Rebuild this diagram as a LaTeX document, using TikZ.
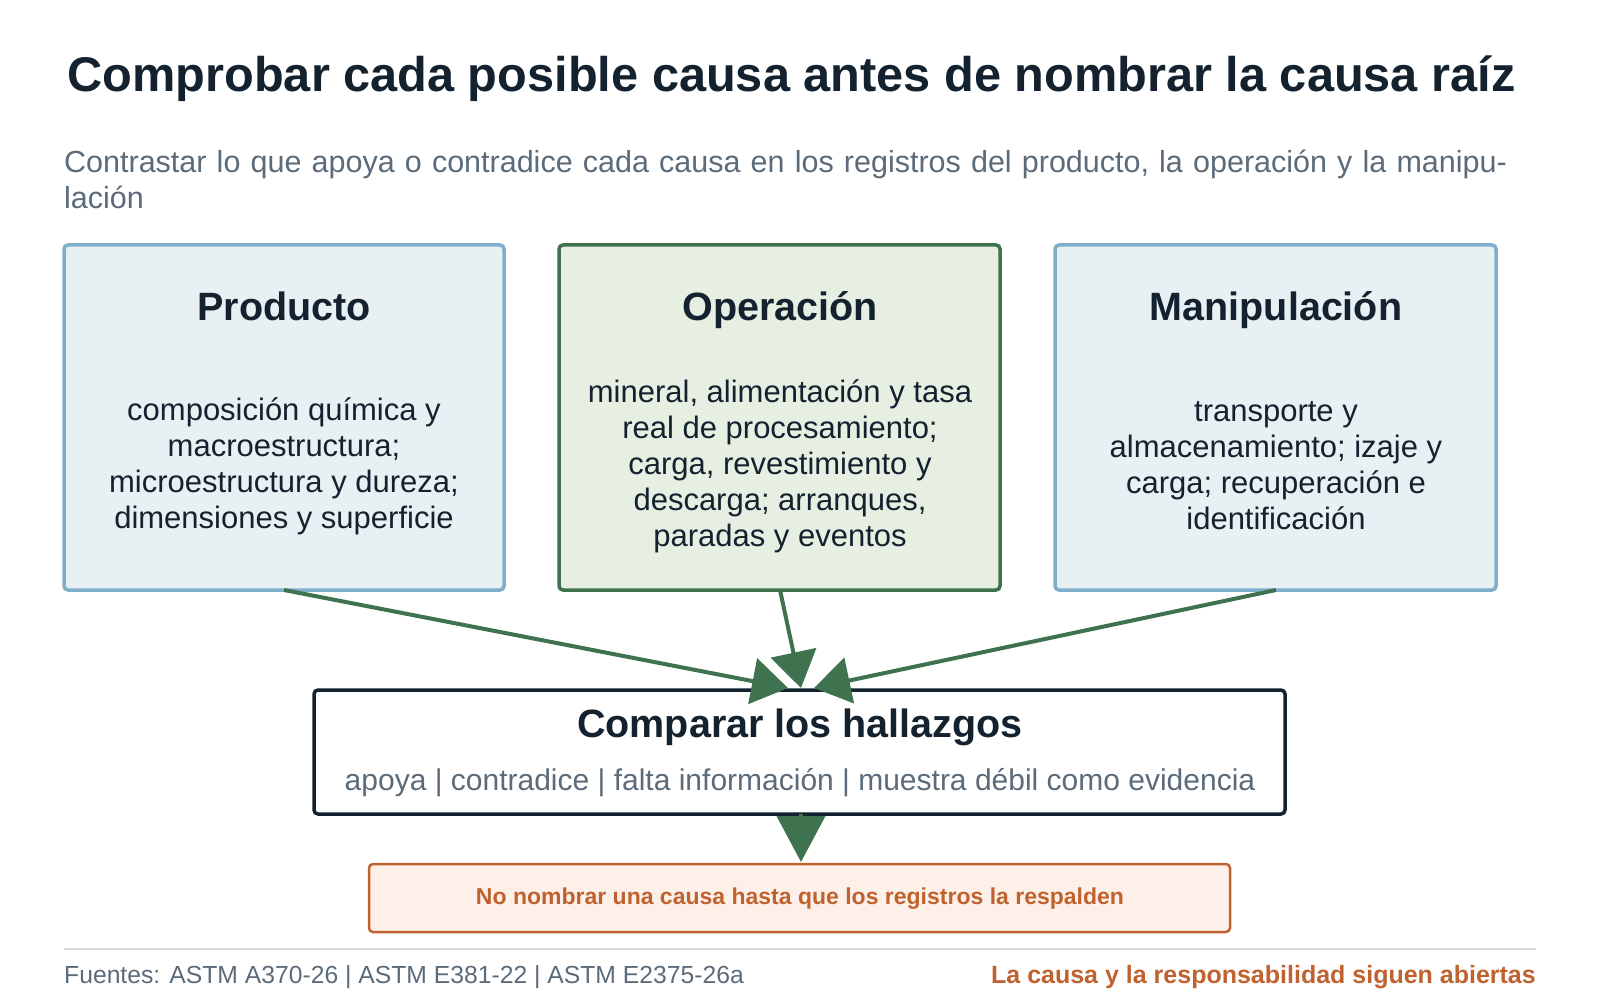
\documentclass[tikz,border=0pt]{standalone}
\usepackage{fontspec}
\setmainfont{Liberation Sans}
\usetikzlibrary{arrows.meta}
\definecolor{dark}{HTML}{13222E}
\definecolor{gr}{HTML}{5B6B7A}
\definecolor{bfill}{HTML}{E9F0F4}
\definecolor{bdraw}{HTML}{7FAECB}
\definecolor{gfill}{HTML}{E6EFE2}
\definecolor{gdraw}{HTML}{3F7350}
\definecolor{ofill}{HTML}{FDF0E8}
\definecolor{odraw}{HTML}{C0622F}
\begin{document}
\begin{tikzpicture}[x=1pt,y=-1pt,
 box/.style={draw=bdraw,fill=bfill,line width=3.5pt,rounded corners=4pt},
 head/.style={font=\fontsize{39.5}{44}\selectfont\bfseries,text=dark},
 body/.style={font=\fontsize{31}{36}\selectfont,text=dark,align=center},
 arr/.style={draw=gdraw,line width=4pt,-{Triangle[length=36pt,width=46pt]}}]
\useasboundingbox (0,0) rectangle (1600,1000);
\node[anchor=base west,font=\fontsize{48.7}{54}\selectfont\bfseries,text=dark] (title) at (64,92) {Comprobar cada posible causa antes de nombrar la causa raíz};
\node[anchor=base west,font=\fontsize{30.5}{36}\selectfont,text=gr,align=left,text width=1450pt,inner sep=0pt] (sub) at (64,173) {Contrastar lo que apoya o contradice cada causa en los registros del producto, la operación y la manipulación};
\draw[box] (64,245) rectangle (504,590);
\draw[box,draw=gdraw,fill=gfill] (559,245) rectangle (1000,590);
\draw[box] (1055,245) rectangle (1496,590);
\coordinate (p) at (284,590); \coordinate (o) at (780,590); \coordinate (m) at (1276,590);
\node[head,anchor=base] (ph) at (284,320) {Producto};
\node[head,anchor=base] (oh) at (780,320) {Operación};
\node[head,anchor=base] (mh) at (1276,320) {Manipulación};
\node[body] (pb) at (284,466) {composición química y\\macroestructura;\\microestructura y dureza;\\dimensiones y superficie};
\node[body] (ob) at (780,466) {mineral, alimentación y tasa\\real de procesamiento;\\carga, revestimiento y\\descarga; arranques,\\paradas y eventos};
\node[body] (mb) at (1276,466) {transporte y\\almacenamiento; izaje y\\carga; recuperación e\\identificación};
\draw[draw=dark,line width=3.5pt,rounded corners=4pt,fill=white] (314,690) rectangle (1285,814);
\node[head,anchor=base] (ch) at (800,737) {Comparar los hallazgos};
\node[anchor=base,font=\fontsize{30}{34}\selectfont,text=gr] (cs) at (800,790) {apoya | contradice | falta información | muestra débil como evidencia};
\coordinate (c1) at (788,688); \coordinate (c2) at (801,688); \coordinate (c3) at (814,688);
\draw[arr] (p) -- (c1);
\draw[arr] (o) -- (c2);
\draw[arr] (m) -- (c3);
\draw[draw=odraw,fill=ofill,line width=2.5pt,rounded corners=4pt] (369,864) rectangle (1230,932);
\node[font=\fontsize{23}{27}\selectfont\bfseries,text=odraw] (warn) at (800,899) {No nombrar una causa hasta que los registros la respalden};
\draw[draw=gdraw,line width=4pt,-{Triangle[length=46pt,width=48pt]}] (801,814) -- (801,862);
\draw[draw=gray!30,line width=2pt] (64,949) -- (1536,949);
\node[anchor=base west,font=\fontsize{24.7}{28}\selectfont,text=gr,inner sep=0pt] (f1) at (64,983) {Fuentes: ASTM A370-26 | ASTM E381-22 | ASTM E2375-26a};
\node[anchor=base east,font=\fontsize{25}{28}\selectfont\bfseries,text=odraw,inner sep=0pt] (f2) at (1536,983) {La causa y la responsabilidad siguen abiertas};
\end{tikzpicture}
\end{document}
